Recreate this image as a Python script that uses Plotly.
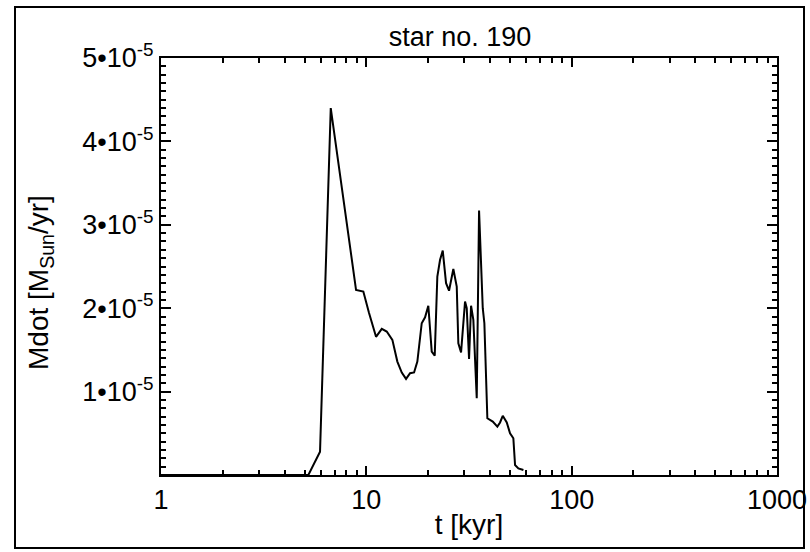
import plotly.graph_objects as go

# Accretion history of star no. 190
t_kyr = [1.0, 5.22, 5.95, 6.71, 8.91, 9.67, 10.3, 11.15, 11.89, 12.57, 13.39,
         14.16, 14.88, 15.61, 16.33, 17.08, 17.72, 18.61, 19.32, 20.04, 20.82,
         21.53, 22.17, 22.86, 23.56, 24.45, 25.28, 26.53, 27.56, 28.06, 28.93,
         30.25, 30.83, 31.64, 32.36, 33.2, 34.49, 35.4, 36.9, 37.57, 38.85,
         41.28, 43.46, 44.8, 46.17, 48.3, 50.1, 52.0, 53.0, 55.0, 58.2]
mdot = [0.0, 0.0, 0.28e-5, 4.40e-5, 2.22e-5, 2.20e-5, 1.945e-5, 1.657e-5,
        1.753e-5, 1.72e-5, 1.62e-5, 1.36e-5, 1.228e-5, 1.152e-5, 1.22e-5,
        1.23e-5, 1.36e-5, 1.82e-5, 1.89e-5, 2.03e-5, 1.48e-5, 1.43e-5, 2.38e-5,
        2.58e-5, 2.69e-5, 2.30e-5, 2.21e-5, 2.47e-5, 2.26e-5, 1.58e-5, 1.47e-5,
        2.08e-5, 2.00e-5, 1.39e-5, 2.03e-5, 1.86e-5, 0.92e-5, 3.17e-5, 2.00e-5,
        1.82e-5, 0.68e-5, 0.64e-5, 0.58e-5, 0.63e-5, 0.71e-5, 0.63e-5, 0.50e-5,
        0.44e-5, 0.12e-5, 0.08e-5, 0.06e-5]

x_ticks = [1, 10, 100, 1000]
x_labels = ["1", "10", "100", "1000"]
x_minor = [m * d for d in (1, 10, 100) for m in range(2, 10)]
y_ticks = [1e-5, 2e-5, 3e-5, 4e-5, 5e-5]
y_labels = [f"{k}\u202210<sup>-5</sup>" for k in range(1, 6)]

FONT = "Liberation Sans, Arial, Helvetica, sans-serif"
FS_TICK = 27
FS_TITLE = 28
W, H = 810, 552
ML, MR, MT, MB = 161, 33, 58, 77

fig = go.Figure(go.Scatter(x=t_kyr, y=mdot, mode="lines",
                           line=dict(color="black", width=2),
                           showlegend=False, hoverinfo="skip"))

axis_common = dict(showline=True, linecolor="black", linewidth=2, mirror="allticks",
                   ticks="inside", tickcolor="black", tickwidth=1.5,
                   showgrid=False, zeroline=False, automargin=False,
                   tickfont=dict(family=FONT, size=FS_TICK, color="black"))

fig.update_xaxes(type="log", range=[0, 3], tickvals=x_ticks, ticktext=x_labels,
                 ticklen=9,
                 minor=dict(ticks="inside", tickvals=x_minor, ticklen=5,
                            tickcolor="black", tickwidth=1.5, showgrid=False),
                 title=dict(text="t [kyr]", font=dict(family=FONT, size=FS_TITLE, color="black"),
                            standoff=0),
                 **axis_common)
fig.update_yaxes(range=[0, 5e-5], tickvals=y_ticks, ticktext=y_labels, ticklen=10,
                 minor=dict(ticks="inside", dtick=1e-6, ticklen=5,
                            tickcolor="black", tickwidth=1.5, showgrid=False),
                 **axis_common)

# pixel -> paper helpers for the frame and the free-standing labels
pw, ph = W - ML - MR, H - MT - MB
def px_to_paper_x(px):
    return (px - ML) / pw
def py_to_paper_y(py):
    return (H - MB - py) / ph

# vertical axis title
fig.add_annotation(text="Mdot [M<sub>Sun</sub>/yr]", textangle=-90, showarrow=False,
                   xref="paper", yref="paper",
                   x=px_to_paper_x(40), y=py_to_paper_y(283),
                   xanchor="center", yanchor="middle",
                   font=dict(family=FONT, size=FS_TITLE, color="black"))

# outer frame around the whole figure
fig.add_shape(type="rect", xref="paper", yref="paper",
              x0=px_to_paper_x(15), x1=px_to_paper_x(804),
              y0=py_to_paper_y(548), y1=py_to_paper_y(7),
              line=dict(color="black", width=2), fillcolor="rgba(0,0,0,0)")

fig.update_layout(
    width=W, height=H,
    margin=dict(l=ML, r=MR, t=MT, b=MB),
    paper_bgcolor="white", plot_bgcolor="white",
    title=dict(text="star no. 190", x=px_to_paper_x(460), xanchor="center", xref="paper",
               y=1 - 37 / H, yanchor="middle",
               font=dict(family=FONT, size=FS_TICK, color="black")),
)

fig.write_html("out.html")
